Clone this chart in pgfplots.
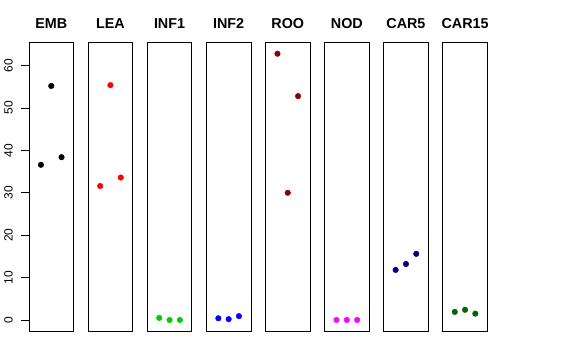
\documentclass[border=0pt]{standalone}
\usepackage{fontspec}
\setmainfont{Liberation Sans}
\usepackage{pgfplots}
\pgfplotsset{compat=1.18}
\definecolor{rgreen}{RGB}{0,205,0}
\definecolor{rdarkred}{RGB}{139,0,0}
\definecolor{rnavy}{RGB}{0,0,139}
\definecolor{rdarkgreen}{RGB}{0,100,0}
\definecolor{rmagenta}{RGB}{255,0,255}
\pgfplotsset{
 panel/.style={scale only axis, width=44.5bp, height=288.3bp, anchor=south west,
   xmin=-0.16, xmax=4.16, ymin=-2.6, ymax=65.4, xtick=\empty, ytick=\empty,
   axis line style={line width=0.8bp, black},
   title style={at={(0.5,1)}, anchor=base, yshift=8.4bp, font=\bfseries\fontsize{14.4}{16}\selectfont},
   clip=false},
}
\newcommand\panel[4]{\begin{axis}[panel, at={(#1bp,29bp)}, title={#2}]
\addplot[only marks, mark=*, mark size=2.8bp, draw=#3, fill=#3] coordinates {#4};
\end{axis}}
\begin{document}
\begin{tikzpicture}
\useasboundingbox (0,0) rectangle (576bp,360bp);
\begin{axis}[panel, at={(29bp,29bp)}, title={EMB},
  ytick={0,10,...,60}, ytick pos=left, tick align=outside, major tick length=8bp,
  tick style={black, line width=0.8bp},
  yticklabel style={rotate=90, anchor=base, yshift=8.5bp, font=\fontsize{12}{12}\selectfont},
  /pgf/number format/assume math mode=true]
\addplot[only marks, mark=*, mark size=2.8bp, draw=black, fill=black] coordinates {(1,36.6) (2,55.2) (3,38.4)};
\end{axis}
\panel{88.2}{LEA}{red}{(1,31.6) (2,55.4) (3,33.6)}
\panel{147.3}{INF1}{rgreen}{(1,0.5) (2,0.0) (3,0.0)}
\panel{206.4}{INF2}{blue}{(1,0.4) (2,0.2) (3,0.9)}
\panel{265.5}{ROO}{rdarkred}{(1,62.8) (2,30.0) (3,52.8)}
\panel{324.6}{NOD}{rmagenta}{(1,0.0) (2,0.0) (3,0.0)}
\panel{383.7}{CAR5}{rnavy}{(1,11.8) (2,13.2) (3,15.6)}
\panel{442.8}{CAR15}{rdarkgreen}{(1,1.9) (2,2.4) (3,1.5)}
\end{tikzpicture}
\end{document}
